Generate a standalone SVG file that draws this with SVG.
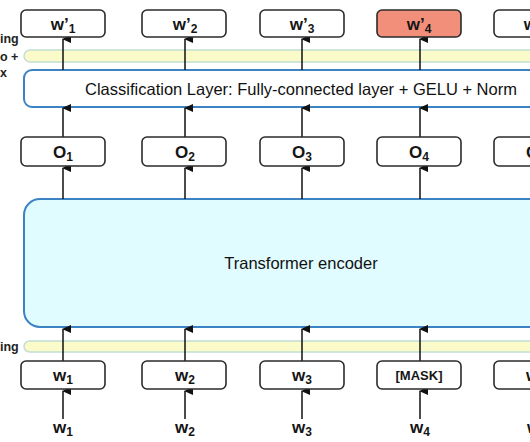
<svg xmlns="http://www.w3.org/2000/svg" width="530" height="442" viewBox="0 0 530 442">
<defs>
<marker id="ah" markerWidth="8" markerHeight="9" refX="4" refY="1" orient="auto-start-reverse" markerUnits="userSpaceOnUse" viewBox="0 0 8 9">
<path d="M0,9 L4,0 L8,9 Z" fill="#111"/>
</marker>
<style>
.box{fill:#fff;stroke:#2b2b2b;stroke-width:1.6}
.red{fill:#f28f7b}
.lbl{font-family:"Liberation Sans",Arial,sans-serif;font-weight:bold;font-size:17px;fill:#151515;text-anchor:middle}
.sub{font-size:12px}
.side{font-family:"Liberation Sans",Arial,sans-serif;font-weight:bold;font-size:12.5px;fill:#222}
.bar{fill:#fafbc9;stroke:#c3ded6;stroke-width:1.5}
.layer{stroke:#3b83c3;stroke-width:2}
.txt{font-family:"Liberation Sans",Arial,sans-serif;font-size:16.5px;fill:#111;text-anchor:middle}
.conn line{stroke:#111;stroke-width:1.5}
</style>
</defs>
<rect width="530" height="442" fill="#fff"/>

<g id="side-labels">
<text class="side" x="0" y="43">ing</text>
<text class="side" x="0" y="61">o +</text>
<text class="side" x="0" y="77">x</text>
<text class="side" x="0" y="351">ing</text>
</g>

<g id="top-bar"><rect class="bar" x="24" y="50" width="540" height="12" rx="6"/></g>
<g id="bottom-bar"><rect class="bar" x="24" y="341" width="540" height="11" rx="5.5"/></g>

<g id="classification">
<rect class="layer" x="24" y="70" width="540" height="37" rx="8" fill="#fff"/>
<text class="txt" x="301" y="95">Classification Layer: Fully-connected layer + GELU + Norm</text>
</g>

<g id="encoder">
<rect class="layer" x="24" y="199" width="540" height="128" rx="16" fill="#e0fcff"/>
<text class="txt" x="301" y="269">Transformer encoder</text>
</g>

<g class="conn" id="connectors">
<line x1="63" y1="70" x2="63" y2="39" marker-end="url(#ah)"/>
<line x1="185" y1="70" x2="185" y2="39" marker-end="url(#ah)"/>
<line x1="302" y1="70" x2="302" y2="39" marker-end="url(#ah)"/>
<line x1="420" y1="70" x2="420" y2="39" marker-end="url(#ah)"/>
<line x1="63" y1="137" x2="63" y2="108" marker-end="url(#ah)"/>
<line x1="185" y1="137" x2="185" y2="108" marker-end="url(#ah)"/>
<line x1="302" y1="137" x2="302" y2="108" marker-end="url(#ah)"/>
<line x1="420" y1="137" x2="420" y2="108" marker-end="url(#ah)"/>
<line x1="63" y1="199" x2="63" y2="168" marker-end="url(#ah)"/>
<line x1="185" y1="199" x2="185" y2="168" marker-end="url(#ah)"/>
<line x1="302" y1="199" x2="302" y2="168" marker-end="url(#ah)"/>
<line x1="420" y1="199" x2="420" y2="168" marker-end="url(#ah)"/>
<line x1="63" y1="361" x2="63" y2="329" marker-end="url(#ah)"/>
<line x1="185" y1="361" x2="185" y2="329" marker-end="url(#ah)"/>
<line x1="302" y1="361" x2="302" y2="329" marker-end="url(#ah)"/>
<line x1="420" y1="361" x2="420" y2="329" marker-end="url(#ah)"/>
<line x1="63" y1="419" x2="63" y2="391" marker-end="url(#ah)"/>
<line x1="185" y1="419" x2="185" y2="391" marker-end="url(#ah)"/>
<line x1="302" y1="419" x2="302" y2="391" marker-end="url(#ah)"/>
<line x1="420" y1="419" x2="420" y2="391" marker-end="url(#ah)"/>
</g>

<g id="out1"><rect class="box" x="21" y="10" width="84" height="27" rx="5"/><text class="lbl" x="63" y="30">w’<tspan class="sub" dy="3">1</tspan></text></g>
<g id="out2"><rect class="box" x="142" y="10" width="84" height="27" rx="5"/><text class="lbl" x="185" y="30">w’<tspan class="sub" dy="3">2</tspan></text></g>
<g id="out3"><rect class="box" x="260" y="10" width="84" height="27" rx="5"/><text class="lbl" x="302" y="30">w’<tspan class="sub" dy="3">3</tspan></text></g>
<g id="out4"><rect class="box red" x="377" y="10" width="84" height="27" rx="5"/><text class="lbl" x="419" y="30">w’<tspan class="sub" dy="3">4</tspan></text></g>
<g id="out5"><rect class="box" x="494" y="10" width="84" height="27" rx="5"/><text class="lbl" x="536" y="30">w’<tspan class="sub" dy="3">5</tspan></text></g>

<g id="o1"><rect class="box" x="21" y="137" width="84" height="29" rx="5"/><text class="lbl" x="63" y="158">O<tspan class="sub" dy="3">1</tspan></text></g>
<g id="o2"><rect class="box" x="142" y="137" width="84" height="29" rx="5"/><text class="lbl" x="185" y="158">O<tspan class="sub" dy="3">2</tspan></text></g>
<g id="o3"><rect class="box" x="260" y="137" width="84" height="29" rx="5"/><text class="lbl" x="302" y="158">O<tspan class="sub" dy="3">3</tspan></text></g>
<g id="o4"><rect class="box" x="377" y="137" width="84" height="29" rx="5"/><text class="lbl" x="419" y="158">O<tspan class="sub" dy="3">4</tspan></text></g>
<g id="o5"><rect class="box" x="494" y="137" width="84" height="29" rx="5"/><text class="lbl" x="536" y="158">O<tspan class="sub" dy="3">5</tspan></text></g>

<g id="in1"><rect class="box" x="21" y="361" width="84" height="28" rx="5"/><text class="lbl" x="63" y="381">w<tspan class="sub" dy="3">1</tspan></text></g>
<g id="in2"><rect class="box" x="142" y="361" width="84" height="28" rx="5"/><text class="lbl" x="185" y="381">w<tspan class="sub" dy="3">2</tspan></text></g>
<g id="in3"><rect class="box" x="260" y="361" width="84" height="28" rx="5"/><text class="lbl" x="302" y="381">w<tspan class="sub" dy="3">3</tspan></text></g>
<g id="in4"><rect class="box" x="377" y="361" width="84" height="28" rx="5"/><text class="lbl" x="419" y="380" style="font-size:13px">[MASK]</text></g>
<g id="in5"><rect class="box" x="494" y="361" width="84" height="28" rx="5"/><text class="lbl" x="536" y="381">w<tspan class="sub" dy="3">5</tspan></text></g>

<g id="tokens">
<text class="lbl" x="63" y="433">w<tspan class="sub" dy="3">1</tspan></text>
<text class="lbl" x="185" y="433">w<tspan class="sub" dy="3">2</tspan></text>
<text class="lbl" x="302" y="433">w<tspan class="sub" dy="3">3</tspan></text>
<text class="lbl" x="420" y="433">w<tspan class="sub" dy="3">4</tspan></text>
<text class="lbl" x="537" y="433">w<tspan class="sub" dy="3">5</tspan></text>
</g>
</svg>
